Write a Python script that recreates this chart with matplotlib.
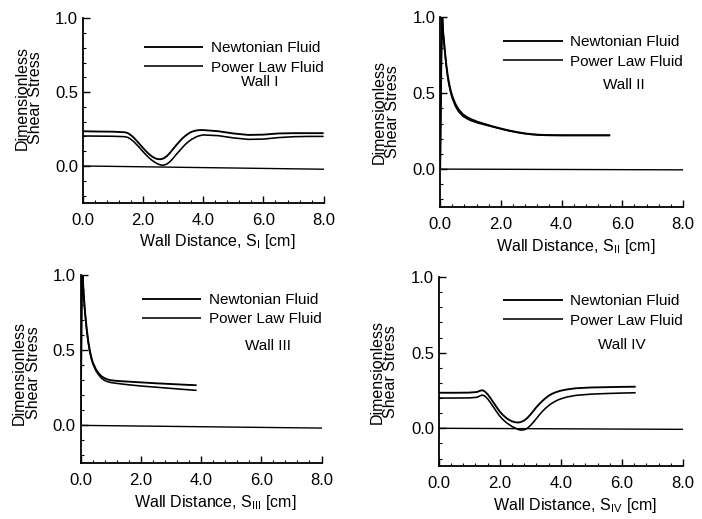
import matplotlib
matplotlib.use("Agg")
import matplotlib.pyplot as plt
from matplotlib.ticker import MultipleLocator, FormatStrFormatter

plt.rcParams['font.family'] = ['Liberation Sans', 'DejaVu Sans']
plt.rcParams['mathtext.fontset'] = 'custom'
plt.rcParams['mathtext.rm'] = 'Liberation Sans'
plt.rcParams['mathtext.it'] = 'Liberation Sans'

# ---------------- data ----------------
# Wall I
x1 = [0, 0.5, 1.0, 1.4, 1.5, 1.6, 1.7, 1.8, 1.9, 2.0, 2.1, 2.2, 2.3, 2.4, 2.5, 2.6, 2.7, 2.8, 2.9,
      3.0, 3.1, 3.2, 3.3, 3.4, 3.5, 3.6, 3.7, 3.8, 3.9, 4.0, 4.5, 5.0, 5.5, 6.0, 6.5, 7.0, 7.5, 8.0]
newt1 = [0.235, 0.233, 0.232, 0.228, 0.222, 0.208, 0.19, 0.168, 0.145, 0.122, 0.1, 0.08, 0.064, 0.052,
         0.046, 0.046, 0.053, 0.068, 0.09, 0.115, 0.14, 0.163, 0.185, 0.203, 0.218, 0.23, 0.237, 0.241,
         0.243, 0.243, 0.235, 0.22, 0.21, 0.212, 0.22, 0.222, 0.222, 0.222]
power1 = [0.203, 0.202, 0.201, 0.198, 0.193, 0.18, 0.163, 0.142, 0.12, 0.097, 0.075, 0.055, 0.038, 0.024,
          0.013, 0.006, 0.006, 0.014, 0.03, 0.052, 0.077, 0.1, 0.123, 0.145, 0.163, 0.178, 0.19, 0.2,
          0.206, 0.21, 0.205, 0.19, 0.18, 0.182, 0.192, 0.198, 0.2, 0.2]
base1_x = [0, 8.0]
base1_y = [0.0, -0.022]

# Wall II
x2 = [0, 0.04, 0.07, 0.1, 0.15, 0.2, 0.25, 0.3, 0.35, 0.4, 0.5, 0.6, 0.75, 0.9, 1.0, 1.25, 1.5, 1.75,
      2.0, 2.25, 2.5, 2.75, 3.0, 3.25, 3.5, 4.0, 4.5, 5.0, 5.6]
newt2 = [0.0, 0.75, 1.0, 0.9, 0.79, 0.69, 0.615, 0.56, 0.515, 0.48, 0.43, 0.395, 0.36, 0.34, 0.33, 0.31,
         0.295, 0.28, 0.267, 0.255, 0.245, 0.236, 0.23, 0.226, 0.224, 0.223, 0.223, 0.223, 0.223]
power2 = [0.0, 0.75, 1.0, 0.89, 0.78, 0.68, 0.6, 0.545, 0.5, 0.465, 0.415, 0.38, 0.348, 0.33, 0.32, 0.303,
          0.29, 0.277, 0.264, 0.252, 0.242, 0.234, 0.228, 0.224, 0.222, 0.221, 0.221, 0.221, 0.221]
base2_x = [0, 8.0]
base2_y = [0.0, -0.005]

# Wall III
x3 = [0, 0.03, 0.06, 0.1, 0.14, 0.2, 0.25, 0.3, 0.35, 0.4, 0.5, 0.6, 0.7, 0.8, 0.9, 1.0, 1.25, 1.5,
      2.0, 2.5, 3.0, 3.5, 3.85]
newt3 = [0.0, 0.8, 1.0, 0.87, 0.76, 0.64, 0.56, 0.5, 0.455, 0.42, 0.375, 0.345, 0.325, 0.313, 0.305,
         0.3, 0.295, 0.292, 0.286, 0.28, 0.275, 0.27, 0.267]
power3 = [0.0, 0.8, 1.0, 0.86, 0.75, 0.63, 0.55, 0.49, 0.445, 0.41, 0.365, 0.335, 0.312, 0.298, 0.29,
          0.285, 0.278, 0.272, 0.262, 0.254, 0.246, 0.238, 0.233]
base3_x = [0, 8.0]
base3_y = [0.0, -0.018]

# Wall IV
x4 = [0, 0.5, 1.0, 1.25, 1.35, 1.42, 1.5, 1.6, 1.7, 1.8, 1.9, 2.0, 2.1, 2.2, 2.3, 2.4, 2.5, 2.6, 2.7,
      2.8, 2.9, 3.0, 3.1, 3.2, 3.3, 3.4, 3.5, 3.6, 3.7, 3.8, 3.9, 4.0, 4.2, 4.5, 5.0, 5.5, 6.0, 6.45]
newt4 = [0.235, 0.235, 0.236, 0.24, 0.248, 0.252, 0.245, 0.225, 0.198, 0.168, 0.138, 0.11, 0.088, 0.07,
         0.056, 0.046, 0.04, 0.038, 0.042, 0.052, 0.068, 0.09, 0.115, 0.14, 0.162, 0.182, 0.2, 0.215,
         0.227, 0.236, 0.243, 0.249, 0.257, 0.265, 0.27, 0.272, 0.274, 0.275]
power4 = [0.2, 0.2, 0.201, 0.205, 0.214, 0.22, 0.215, 0.195, 0.168, 0.138, 0.108, 0.08, 0.058, 0.04,
          0.025, 0.012, 0.002, -0.008, -0.012, -0.01, 0.0, 0.018, 0.04, 0.065, 0.09, 0.113, 0.133, 0.15,
          0.165, 0.177, 0.187, 0.195, 0.207, 0.218, 0.226, 0.23, 0.233, 0.235]
base4_x = [0, 8.0]
base4_y = [0.0, -0.007]

wall_names = ["Wall I", "Wall II", "Wall III", "Wall IV"]
xlabels = [r"Wall Distance, S$_{\mathrm{I}}$ [cm]",
           r"Wall Distance, S$_{\mathrm{II}}$ [cm]",
           r"Wall Distance, S$_{\mathrm{III}}$ [cm]",
           r"Wall Distance, S$_{\mathrm{IV}}$ [cm]"]
series_labels = ["Newtonian Fluid", "Power Law Fluid"]
xticks = [0.0, 2.0, 4.0, 6.0, 8.0]
yticks = [0.0, 0.5, 1.0]

panels = [
    (x1, newt1, power1, base1_x, base1_y),
    (x2, newt2, power2, base2_x, base2_y),
    (x3, newt3, power3, base3_x, base3_y),
    (x4, newt4, power4, base4_x, base4_y),
]

# ---------------- layout ----------------
rects = [
    [0.118, 0.609, 0.343, 0.356],
    [0.627, 0.601, 0.346, 0.366],
    [0.115, 0.108, 0.343, 0.362],
    [0.625, 0.102, 0.348, 0.364],
]
wall_pos = [(0.735, 0.654), (0.755, 0.642), (0.776, 0.622), (0.75, 0.64)]
ylabel_y = [0.57, 0.5, 0.48, 0.5]
legend_y = [0.875, 0.905, 0.905, 0.91]

fig = plt.figure(figsize=(7.02, 5.19), dpi=100)
fs = 11.0
tfs = 12.0
lfs = 11.5

for i, (x, n, p, bx, by) in enumerate(panels):
    ax = fig.add_axes(rects[i])
    ax.plot(x, n, color='black', lw=1.35, label=series_labels[0], solid_capstyle='butt')
    ax.plot(x, p, color='black', lw=1.15, label=series_labels[1], solid_capstyle='butt')
    ax.plot(bx, by, color='black', lw=1.0)
    ax.set_xlim(0, 8.0)
    ax.set_ylim(-0.25, 1.0)
    ax.set_xticks(xticks)
    ax.set_yticks(yticks)
    ax.xaxis.set_minor_locator(MultipleLocator(0.4))
    ax.yaxis.set_minor_locator(MultipleLocator(0.1))
    ax.xaxis.set_major_formatter(FormatStrFormatter('%.1f'))
    ax.yaxis.set_major_formatter(FormatStrFormatter('%.1f'))
    ax.tick_params(which='major', direction='in', length=5, width=1.0, labelsize=tfs)
    ax.tick_params(axis='x', which='major', pad=7.5)
    ax.tick_params(axis='y', which='major', pad=3.5)
    ax.tick_params(which='minor', direction='in', length=2.5, width=0.8)
    for s in ['top', 'right']:
        ax.spines[s].set_visible(False)
    for s in ['left', 'bottom']:
        ax.spines[s].set_linewidth(1.3)
    ax.set_xlabel(xlabels[i], fontsize=lfs)
    ax.xaxis.set_label_coords(0.56, -0.16)
    ax.set_ylabel("Dimensionless\nShear Stress", fontsize=lfs, linespacing=0.9)
    ax.yaxis.set_label_coords(-0.165, ylabel_y[i])
    ax.text(wall_pos[i][0], wall_pos[i][1], wall_names[i], transform=ax.transAxes,
            fontsize=fs, ha='center', va='center')
    ax.legend(loc='upper right', bbox_to_anchor=(1.0, legend_y[i]), frameon=False,
              fontsize=fs, handlelength=3.9, handletextpad=0.5,
              labelspacing=0.36, borderaxespad=0.0, borderpad=0.0)

fig.savefig("out.png", dpi=100)
